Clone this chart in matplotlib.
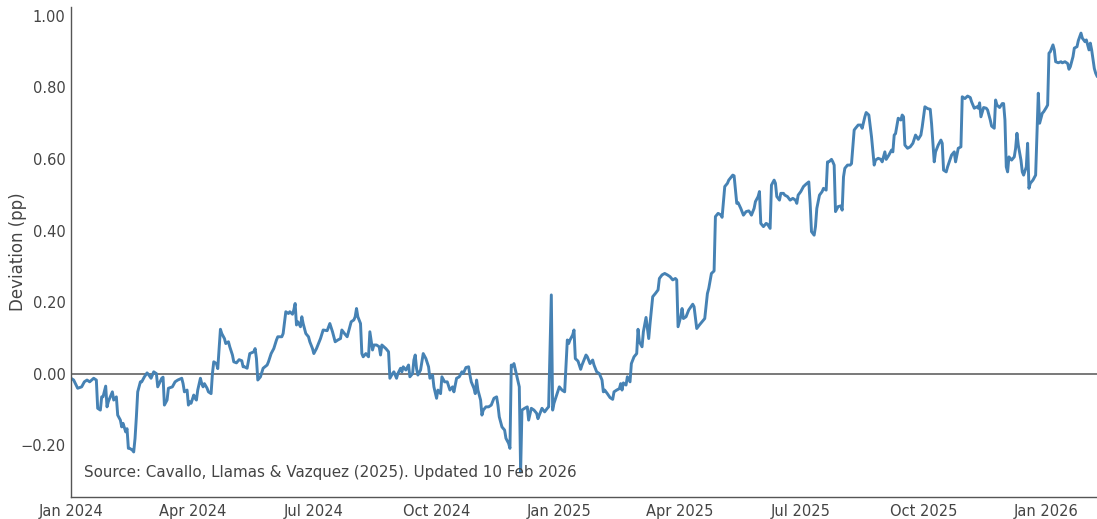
import numpy as np
import pandas as pd
import matplotlib
matplotlib.use("Agg")
import matplotlib.pyplot as plt
import matplotlib.dates as mdates
from matplotlib.ticker import FuncFormatter, FixedLocator

# ---- data: days since 2024-01-01 and deviation (pp) ----
start_date = "2024-01-01"
days = [0, 2, 5, 8, 10, 12, 14, 17, 19, 20, 22, 23, 24, 26, 27, 28, 31, 32, 34, 35,
        37, 38, 39, 41, 42, 43, 44, 46, 47, 48, 49, 50, 52, 53, 55, 57, 58, 60, 62, 64,
        65, 68, 69, 70, 72, 73, 76, 78, 80, 83, 84, 85, 87, 88, 89, 90, 92, 93, 94, 95,
        97, 98, 99, 100, 102, 103, 105, 106, 107, 109, 110, 112, 113, 115, 116, 118, 119, 121, 122, 124,
        126, 128, 129, 130, 132, 134, 137, 138, 139, 140, 142, 144, 147, 148, 150, 152, 154, 155, 158, 159,
        161, 163, 164, 166, 167, 168, 169, 170, 172, 173, 174, 176, 178, 179, 181, 182, 184, 187, 189, 192,
        194, 196, 198, 200, 202, 203, 205, 207, 208, 210, 212, 213, 214, 215, 217, 218, 219, 221, 223, 224,
        226, 227, 229, 231, 232, 233, 236, 238, 239, 241, 242, 244, 245, 247, 248, 249, 251, 253, 254, 256,
        257, 258, 259, 260, 262, 264, 266, 268, 269, 271, 272, 274, 275, 277, 278, 280, 282, 284, 286, 287,
        289, 291, 293, 294, 296, 298, 299, 300, 302, 303, 304, 305, 307, 308, 309, 311, 313, 315, 317, 319,
        320, 321, 323, 325, 326, 328, 329, 330, 331, 332, 334, 336, 337, 338, 340, 342, 343, 345, 347, 349,
        350, 351, 353, 355, 357, 358, 360, 361, 362, 364, 366, 368, 370, 372, 373, 374, 376, 377, 378, 380,
        382, 383, 386, 387, 389, 391, 392, 394, 396, 398, 399, 400, 402, 404, 406, 407, 409, 411, 412, 413,
        414, 416, 417, 419, 420, 422, 424, 425, 426, 428, 429, 431, 433, 434, 436, 438, 440, 441, 443, 445,
        447, 449, 451, 453, 454, 455, 457, 458, 459, 461, 463, 466, 467, 469, 471, 473, 475, 477, 478, 480,
        482, 483, 485, 487, 488, 490, 492, 493, 496, 497, 499, 500, 502, 504, 506, 508, 509, 510, 512, 513,
        515, 516, 517, 519, 521, 522, 524, 525, 527, 528, 529, 531, 532, 534, 535, 537, 539, 541, 543, 544,
        545, 547, 549, 551, 553, 554, 555, 557, 558, 559, 561, 563, 564, 566, 567, 568, 570, 571, 572, 573,
        575, 577, 578, 579, 580, 582, 584, 585, 587, 588, 590, 592, 593, 595, 596, 598, 600, 602, 603, 605,
        607, 608, 610, 611, 613, 615, 616, 617, 618, 620, 622, 623, 624, 625, 627, 629, 631, 633, 635, 637,
        638, 640, 642, 644, 645, 647, 648, 650, 652, 653, 654, 656, 657, 658, 660, 662, 663, 665, 667, 668,
        670, 672, 674, 675, 677, 679, 680, 681, 682, 684, 686, 687, 689, 690, 692, 693, 694, 696, 698, 699,
        700, 701, 702, 703, 705, 707, 708, 709, 710, 712, 713, 714, 716, 717, 718, 719, 721, 723, 724, 725,
        726, 728, 729, 731, 732, 733, 734, 736, 737, 738, 740, 742, 743, 745, 747, 748, 749, 751, 752, 754,
        755, 757, 758, 760, 761, 763, 764, 765, 767, 768, 769]

deviation = [-0.013, -0.018, -0.041, -0.037, -0.023, -0.018, -0.023, -0.013, -0.018, -0.097, -0.102, -0.065, -0.065, -0.035, -0.093, -0.078, -0.051, -0.074, -0.065, -0.116,
             -0.130, -0.149, -0.139, -0.163, -0.154, -0.209, -0.209, -0.214, -0.219, -0.181, -0.121, -0.051, -0.023, -0.023, -0.009, 0.002, -0.002, -0.013, 0.005, 0.000,
             -0.037, -0.013, -0.010, -0.088, -0.074, -0.041, -0.037, -0.023, -0.018, -0.013, -0.028, -0.051, -0.046, -0.088, -0.079, -0.083, -0.060, -0.069, -0.074, -0.046,
             -0.013, -0.028, -0.037, -0.028, -0.041, -0.051, -0.056, 0.000, 0.033, 0.028, 0.014, 0.124, 0.112, 0.098, 0.084, 0.089, 0.075, 0.052, 0.033, 0.030,
             0.039, 0.036, 0.019, 0.019, 0.015, 0.056, 0.061, 0.070, 0.042, -0.018, -0.009, 0.015, 0.024, 0.033, 0.056, 0.070, 0.094, 0.103, 0.103, 0.112,
             0.173, 0.168, 0.173, 0.166, 0.178, 0.196, 0.136, 0.145, 0.131, 0.159, 0.140, 0.112, 0.103, 0.089, 0.070, 0.056, 0.070, 0.098, 0.122, 0.120,
             0.140, 0.117, 0.089, 0.094, 0.098, 0.122, 0.112, 0.103, 0.117, 0.145, 0.150, 0.159, 0.182, 0.159, 0.140, 0.056, 0.047, 0.056, 0.047, 0.117,
             0.066, 0.080, 0.080, 0.075, 0.052, 0.080, 0.070, 0.061, -0.013, 0.000, 0.005, -0.013, 0.000, 0.015, 0.005, 0.019, 0.010, 0.024, -0.009, 0.000,
             0.038, 0.052, 0.014, -0.004, 0.010, 0.056, 0.042, 0.019, -0.013, -0.004, -0.037, -0.069, -0.046, -0.056, -0.009, -0.023, -0.023, -0.046, -0.037, -0.051,
             -0.013, -0.009, 0.005, 0.000, 0.017, 0.019, -0.004, -0.023, -0.041, -0.056, -0.018, -0.046, -0.074, -0.116, -0.102, -0.093, -0.093, -0.088, -0.069, -0.065,
             -0.088, -0.121, -0.149, -0.158, -0.181, -0.195, -0.209, 0.024, 0.021, 0.028, -0.004, -0.037, -0.275, -0.102, -0.097, -0.093, -0.130, -0.097, -0.102, -0.111,
             -0.126, -0.116, -0.097, -0.107, -0.097, -0.093, 0.220, -0.102, -0.083, -0.060, -0.037, -0.046, -0.051, 0.094, 0.084, 0.094, 0.108, 0.122, 0.042, 0.035,
             0.012, 0.024, 0.052, 0.047, 0.028, 0.038, 0.024, 0.005, 0.000, -0.018, -0.051, -0.046, -0.056, -0.067, -0.072, -0.051, -0.046, -0.042, -0.028, -0.046,
             -0.026, -0.032, -0.009, -0.023, 0.028, 0.047, 0.056, 0.124, 0.089, 0.075, 0.117, 0.157, 0.098, 0.140, 0.215, 0.224, 0.234, 0.266, 0.276, 0.280,
             0.276, 0.271, 0.262, 0.266, 0.262, 0.131, 0.159, 0.182, 0.154, 0.159, 0.178, 0.194, 0.187, 0.126, 0.136, 0.145, 0.154, 0.224, 0.238, 0.280,
             0.287, 0.439, 0.448, 0.444, 0.437, 0.523, 0.532, 0.541, 0.555, 0.553, 0.476, 0.478, 0.462, 0.443, 0.453, 0.455, 0.450, 0.443, 0.462, 0.481,
             0.495, 0.509, 0.420, 0.411, 0.420, 0.418, 0.406, 0.527, 0.541, 0.532, 0.495, 0.485, 0.504, 0.504, 0.499, 0.495, 0.485, 0.490, 0.485, 0.476,
             0.499, 0.509, 0.523, 0.530, 0.536, 0.476, 0.397, 0.387, 0.411, 0.462, 0.499, 0.509, 0.518, 0.513, 0.592, 0.592, 0.599, 0.592, 0.583, 0.453,
             0.467, 0.469, 0.457, 0.550, 0.574, 0.583, 0.583, 0.587, 0.681, 0.686, 0.695, 0.695, 0.686, 0.718, 0.730, 0.723, 0.662, 0.583, 0.597, 0.602,
             0.599, 0.592, 0.620, 0.599, 0.611, 0.625, 0.620, 0.667, 0.671, 0.714, 0.709, 0.723, 0.718, 0.639, 0.630, 0.634, 0.644, 0.667, 0.655, 0.667,
             0.690, 0.746, 0.741, 0.739, 0.699, 0.592, 0.620, 0.639, 0.653, 0.644, 0.569, 0.564, 0.578, 0.589, 0.611, 0.620, 0.592, 0.630, 0.634, 0.774,
             0.769, 0.776, 0.772, 0.760, 0.742, 0.746, 0.742, 0.757, 0.718, 0.744, 0.742, 0.737, 0.709, 0.692, 0.686, 0.765, 0.751, 0.744, 0.755, 0.755,
             0.709, 0.578, 0.564, 0.606, 0.597, 0.606, 0.630, 0.672, 0.639, 0.597, 0.564, 0.555, 0.578, 0.644, 0.518, 0.532, 0.541, 0.555, 0.672, 0.784,
             0.700, 0.728, 0.732, 0.744, 0.751, 0.896, 0.900, 0.919, 0.905, 0.872, 0.869, 0.872, 0.869, 0.872, 0.867, 0.851, 0.858, 0.886, 0.910, 0.914,
             0.931, 0.952, 0.938, 0.928, 0.933, 0.905, 0.924, 0.905, 0.853, 0.840, 0.832]

y_ticks = [-0.20, 0.00, 0.20, 0.40, 0.60, 0.80, 1.00]
y_label = "Deviation (pp)"
source_note = "Source: Cavallo, Llamas & Vazquez (2025). Updated 10 Feb 2026"

dates = pd.Timestamp(start_date) + pd.to_timedelta(days, unit="D")
values = np.array(deviation)

# ---- figure ----
W, H = 1097, 519
fig = plt.figure(figsize=(W / 100, H / 100), dpi=100)
ax = fig.add_axes([71 / W, 1 - 497 / H, 1 - 71 / W, (497 - 7) / H])

text_color = "#444444"
ax.axhline(0, color="#555555", lw=1.1, zorder=1)
ax.plot(dates, values, color="#4682B4", lw=2.1, zorder=2, solid_joinstyle="round")

ax.set_xlim(dates[0], dates[-1])
ax.set_ylim(-0.345, 1.025)

ax.yaxis.set_major_locator(FixedLocator(y_ticks))
ax.yaxis.set_major_formatter(FuncFormatter(lambda v, p: f"{v:.2f}".replace("-", "\u2212")))
ax.xaxis.set_major_locator(mdates.MonthLocator(bymonth=[1, 4, 7, 10]))
ax.xaxis.set_major_formatter(mdates.DateFormatter("%b %Y"))

ax.tick_params(axis="both", length=0, labelsize=10.5, colors=text_color)
ax.tick_params(axis="y", pad=4)
ax.tick_params(axis="x", pad=5)

for s in ["top", "right"]:
    ax.spines[s].set_visible(False)
for s in ["left", "bottom"]:
    ax.spines[s].set_color("#555555")
    ax.spines[s].set_linewidth(1.0)

ax.set_ylabel(y_label, fontsize=12, color=text_color)
ax.yaxis.set_label_coords(-0.043, 0.5)
ax.text(0.0125, 0.035, source_note, transform=ax.transAxes,
        fontsize=10.9, color=text_color, ha="left", va="bottom")

fig.savefig("out.png", dpi=100)
